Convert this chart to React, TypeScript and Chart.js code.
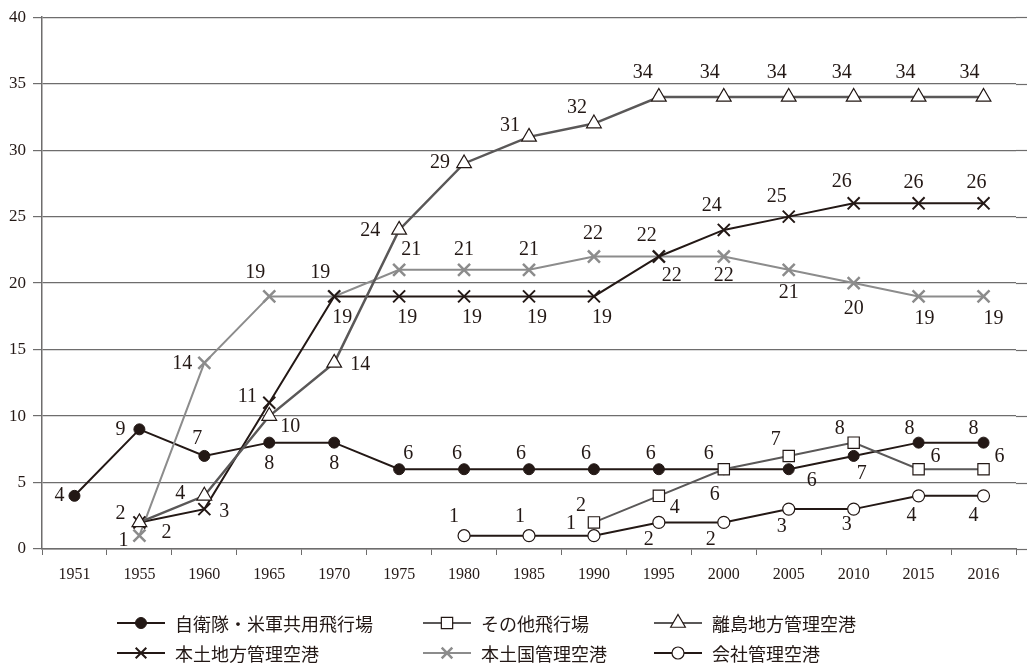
import React, { useEffect, useRef } from 'react';
import { Chart, registerables } from 'chart.js';

Chart.register(...registerables);

// ---- data ----
const years = ['1951', '1955', '1960', '1965', '1970', '1975', '1980', '1985', '1990', '1995', '2000', '2005', '2010', '2015', '2016'];
const yTicks = [0, 5, 10, 15, 20, 25, 30, 35, 40];

const seriesNames = ['自衛隊・米軍共用飛行場', 'その他飛行場', '離島地方管理空港', '本土地方管理空港', '本土国管理空港', '会社管理空港'];

const jieitai = [4, 9, 7, 8, 8, 6, 6, 6, 6, 6, 6, 6, 7, 8, 8];
const sonota = [null, null, null, null, null, null, null, null, 2, 4, 6, 7, 8, 6, 6];
const ritou = [null, 2, 4, 10, 14, 24, 29, 31, 32, 34, 34, 34, 34, 34, 34];
const hondoChihou = [null, 2, 3, 11, 19, 19, 19, 19, 19, 22, 24, 25, 26, 26, 26];
const hondoKuni = [null, 1, 14, 19, 19, 21, 21, 21, 22, 22, 22, 21, 20, 19, 19];
const kaisha = [null, null, null, null, null, null, 1, 1, 1, 2, 2, 3, 3, 4, 4];

// ---- label placement (pixel offsets from point, style only) ----
const offJieitai = [[-15, 0], [-19, 0], [-7, -17], [0, 21], [0, 21], [9, -15], [-7, -15], [-8, -15], [-8, -15], [-8, -15], [-15, -15], [23, 12], [8, 18], [-9, -14], [-10, -14]];
const offSonota = [null, null, null, null, null, null, null, null, [-13, -17], [16, 12], [-9, 26], [-13, -16], [-14, -14], [17, -12], [16, -12]];
const offRitou = [null, [-19, -9], [-24, -2], [21, 11], [26, 2], [-29, 1], [-24, -1], [-19, -11], [-17, -16], [-16, -24], [-14, -24], [-12, -24], [-12, -24], [-13, -24], [-14, -24]];
const offHondoChihou = [null, [27, 10], [20, 3], [-22, -6], [8, 21], [8, 21], [8, 21], [8, 21], [8, 21], [-12, -21], [-12, -24], [-12, -20], [-12, -22], [-5, -21], [-7, -21]];
const offHondoKuni = [null, [-16, 5], [-22, 1], [-14, -24], [-14, -24], [12, -20], [0, -20], [0, -20], [-1, -23], [13, 19], [0, 19], [0, 23], [0, 26], [6, 22], [10, 22]];
const offKaisha = [null, null, null, null, null, null, [-10, -19], [-9, -19], [-23, -12], [-10, 17], [-13, 17], [-7, 18], [-7, 16], [-7, 20], [-10, 20]];

const BLACK = '#231815';
const DARK = '#5a5858';
const LIGHT = '#8c8c8c';
const GRID = '#6e6d6d';

const styles = [
  { line: BLACK, point: 'circle', radius: 5.5, fill: BLACK, border: BLACK, bw: 1 },
  { line: DARK, point: 'rect', radius: 8, fill: '#ffffff', border: BLACK, bw: 1.2 },
  { line: DARK, point: 'triangle', radius: 8.5, fill: '#ffffff', border: BLACK, bw: 1.2 },
  { line: BLACK, point: 'crossRot', radius: 8.5, fill: BLACK, border: BLACK, bw: 2 },
  { line: LIGHT, point: 'crossRot', radius: 8.5, fill: LIGHT, border: LIGHT, bw: 2.5 },
  { line: BLACK, point: 'circle', radius: 6, fill: '#ffffff', border: BLACK, bw: 1.2 },
];
const seriesData = [jieitai, sonota, ritou, hondoChihou, hondoKuni, kaisha];
const seriesOffsets = [offJieitai, offSonota, offRitou, offHondoChihou, offHondoKuni, offKaisha];
const drawOrder = [6, 1, 2, 3, 4, 5];

const legendPos = [
  [117, 623], [423, 623], [654, 623],
  [117, 653], [423, 653], [654, 653],
];

function drawMarker(ctx: CanvasRenderingContext2D, kind: string, x: number, y: number, r: number, fill: string, border: string, bw: number) {
  ctx.save();
  ctx.lineWidth = bw;
  ctx.strokeStyle = border;
  ctx.fillStyle = fill;
  ctx.beginPath();
  if (kind === 'circle') {
    ctx.arc(x, y, r, 0, Math.PI * 2);
    ctx.fill();
    ctx.stroke();
  } else if (kind === 'rect') {
    const s = r * Math.SQRT1_2;
    ctx.rect(x - s, y - s, 2 * s, 2 * s);
    ctx.fill();
    ctx.stroke();
  } else if (kind === 'triangle') {
    let a = 0;
    ctx.moveTo(x + Math.sin(a) * r, y - Math.cos(a) * r);
    a += (2 * Math.PI) / 3;
    ctx.lineTo(x + Math.sin(a) * r, y - Math.cos(a) * r);
    a += (2 * Math.PI) / 3;
    ctx.lineTo(x + Math.sin(a) * r, y - Math.cos(a) * r);
    ctx.closePath();
    ctx.fill();
    ctx.stroke();
  } else {
    const o = r * Math.SQRT1_2;
    ctx.moveTo(x - o, y - o);
    ctx.lineTo(x + o, y + o);
    ctx.moveTo(x - o, y + o);
    ctx.lineTo(x + o, y - o);
    ctx.stroke();
  }
  ctx.restore();
}

const gridExtendPlugin = {
  id: 'gridExtend',
  beforeDatasetsDraw(chart: any) {
    const ctx = chart.ctx;
    const y = chart.scales.y;
    const right = chart.chartArea.right;
    ctx.save();
    ctx.strokeStyle = GRID;
    ctx.lineWidth = 1.2;
    y.ticks.forEach((t: any) => {
      const py = Math.round(y.getPixelForValue(t.value)) + 0.5;
      ctx.beginPath();
      ctx.moveTo(right, py);
      ctx.lineTo(chart.width, py);
      ctx.stroke();
    });
    ctx.restore();
  },
};

const labelPlugin = {
  id: 'pointLabels',
  afterDatasetsDraw(chart: any) {
    const ctx = chart.ctx;
    ctx.save();
    ctx.font = "20px 'Liberation Serif', serif";
    ctx.fillStyle = BLACK;
    ctx.textAlign = 'center';
    ctx.textBaseline = 'middle';
    chart.data.datasets.forEach((ds: any, i: number) => {
      const meta = chart.getDatasetMeta(i);
      const offs = seriesOffsets[i];
      meta.data.forEach((el: any, j: number) => {
        const v = ds.data[j];
        if (v == null) return;
        const o = offs[j] || [0, -18];
        ctx.fillText(String(v), el.x + o[0], el.y + o[1]);
      });
    });
    ctx.restore();
  },
};

const legendPlugin = {
  id: 'customLegend',
  afterDraw(chart: any) {
    const ctx = chart.ctx;
    seriesNames.forEach((name, i) => {
      const [x, y] = legendPos[i];
      const st = styles[i];
      ctx.save();
      ctx.strokeStyle = st.line;
      ctx.lineWidth = 2;
      ctx.beginPath();
      ctx.moveTo(x, y);
      ctx.lineTo(x + 48, y);
      ctx.stroke();
      ctx.restore();
      drawMarker(ctx, st.point, x + 24, y, st.point === 'crossRot' ? 7.5 : st.radius, st.fill, st.border, st.bw);
      ctx.save();
      ctx.font = "18px 'Noto Sans CJK JP', sans-serif";
      ctx.fillStyle = BLACK;
      ctx.textAlign = 'left';
      ctx.textBaseline = 'middle';
      ctx.fillText(name, x + 58, y + 1);
      ctx.restore();
    });
  },
};

export default function App() {
  const ref = useRef<HTMLCanvasElement | null>(null);
  useEffect(() => {
    document.body.style.margin = '0';
    const canvas = ref.current;
    if (!canvas) return;
    const datasets = seriesData.map((d, i) => ({
      label: seriesNames[i],
      data: d,
      borderColor: styles[i].line,
      borderWidth: i === 2 ? 2.5 : 2,
      pointStyle: styles[i].point,
      pointRadius: styles[i].radius,
      pointBackgroundColor: styles[i].fill,
      pointBorderColor: styles[i].border,
      pointBorderWidth: styles[i].bw,
      pointHoverRadius: styles[i].radius,
      tension: 0,
      fill: false,
      order: drawOrder[i],
    }));
    const chart = new Chart(canvas, {
      type: 'line',
      data: { labels: years, datasets },
      plugins: [gridExtendPlugin, labelPlugin, legendPlugin],
      options: {
        animation: false,
        responsive: false,
        layout: { padding: { top: 12, right: 4, left: 0, bottom: 0 } },
        plugins: { legend: { display: false }, tooltip: { enabled: false } },
        scales: {
          x: {
            type: 'category',
            offset: true,
            grid: { display: true, drawOnChartArea: false, drawTicks: true, tickLength: 6, color: GRID, offset: true },
            border: { display: true, color: GRID, width: 1.5 },
            ticks: { color: BLACK, font: { family: "'Liberation Serif', serif", size: 16 }, padding: 10, maxRotation: 0, autoSkip: false },
            afterFit: (s: any) => { s.height = 120; },
          },
          y: {
            min: yTicks[0],
            max: yTicks[yTicks.length - 1],
            afterBuildTicks: (s: any) => { s.ticks = yTicks.map((v) => ({ value: v })); },
            grid: { color: GRID, lineWidth: 1.2, tickLength: 9 },
            border: { display: true, color: GRID, width: 1.5 },
            ticks: { color: BLACK, font: { family: "'Liberation Serif', serif", size: 17 }, padding: 7 },
            afterFit: (s: any) => { s.width = 42; },
          },
        },
      },
    } as any);
    return () => chart.destroy();
  }, []);
  return (
    <div style={{ position: 'absolute', left: 0, top: 0, width: 1027, height: 669 }}>
      <canvas ref={ref} width={1027} height={669} />
    </div>
  );
}
